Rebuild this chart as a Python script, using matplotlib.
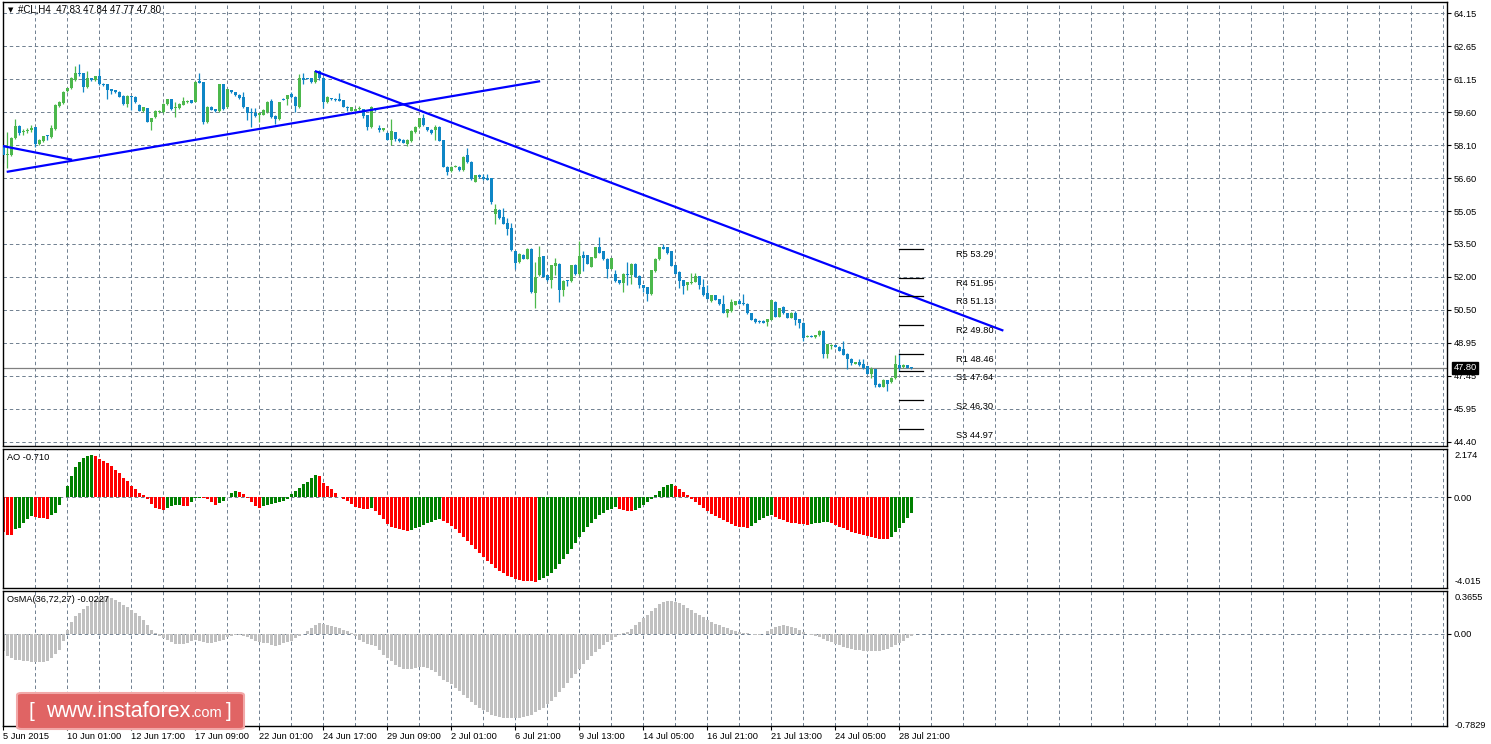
import matplotlib
matplotlib.use("Agg")
import matplotlib.pyplot as plt
import matplotlib.transforms as mtransforms
from matplotlib.patches import FancyBboxPatch

plt.rcParams['font.family'] = ['Liberation Sans', 'DejaVu Sans']
plt.rcParams['lines.scale_dashes'] = False

# ---- price data (H4 candles, #CL) ----
opens = [
    58.06, 57.61, 57.61, 58.41, 58.95, 58.66, 58.72, 58.75, 58.90, 58.14,
    58.26, 58.51, 58.45, 58.82, 59.87, 60.01, 60.57, 60.69, 61.07, 61.38,
    61.38, 60.75, 61.15, 61.07, 61.24, 60.91, 60.88, 60.65, 60.60, 60.53,
    60.34, 59.96, 60.34, 60.30, 59.92, 59.63, 59.78, 59.16, 59.36, 59.58,
    59.58, 59.96, 60.19, 59.77, 59.77, 59.93, 60.04, 60.13, 60.07, 61.03,
    60.98, 59.13, 59.84, 59.74, 59.63, 60.88, 59.84, 60.60, 60.50, 60.39,
    60.30, 59.81, 59.58, 59.54, 59.46, 59.48, 59.58, 60.12, 59.43, 59.28,
    60.22, 60.19, 60.42, 60.31, 59.81, 61.18, 61.15, 61.15, 60.98, 61.48,
    61.18, 60.04, 60.22, 60.22, 60.19, 60.15, 59.84, 59.66, 59.66, 59.74,
    59.74, 59.46, 58.90, 59.77, 58.86, 58.75, 58.64, 58.32, 58.67, 58.37,
    58.32, 58.14, 58.25, 58.67, 58.90, 59.31, 58.90, 58.79, 58.75, 58.93,
    58.29, 57.08, 56.88, 57.08, 57.08, 56.93, 57.61, 57.30, 56.38, 56.68,
    56.62, 56.56, 56.56, 54.90, 55.10, 54.75, 54.49, 54.24, 53.19, 52.69,
    53.02, 52.84, 53.30, 51.24, 52.08, 52.95, 52.08, 51.85, 52.49, 52.61,
    51.39, 51.85, 51.80, 52.56, 52.12, 52.99, 52.99, 52.46, 52.88, 53.36,
    53.17, 52.84, 52.38, 52.15, 51.85, 51.70, 52.15, 52.08, 52.61, 52.05,
    51.62, 51.51, 51.19, 52.26, 52.81, 53.39, 53.37, 53.17, 52.53, 52.23,
    51.85, 51.62, 51.70, 51.77, 52.03, 51.51, 51.27, 50.88, 51.15, 50.96,
    50.77, 50.35, 50.42, 50.70, 50.88, 50.80, 50.77, 50.32, 50.06, 49.97,
    49.97, 49.91, 50.01, 50.85, 50.17, 50.62, 50.32, 50.12, 50.32, 50.04,
    49.89, 49.24, 49.28, 49.22, 49.30, 49.51, 48.45, 48.80, 48.84, 48.77,
    48.69, 48.45, 48.22, 47.99, 48.07, 47.99, 47.89, 47.51, 47.73, 47.08,
    46.94, 47.23, 47.13, 47.32, 47.93, 47.84, 47.93, 47.83,
]
highs = [
    58.10, 58.67, 58.45, 59.28, 58.98, 58.82, 58.85, 59.01, 58.93, 58.36,
    58.50, 58.52, 59.02, 59.95, 60.10, 60.57, 60.72, 61.20, 61.71, 61.82,
    61.42, 61.51, 61.18, 61.27, 61.59, 60.95, 60.90, 60.68, 60.63, 60.55,
    60.37, 60.37, 60.36, 60.33, 59.95, 59.84, 59.80, 59.34, 59.69, 59.69,
    60.00, 60.22, 60.22, 60.04, 60.00, 60.30, 60.14, 60.15, 61.03, 61.41,
    61.00, 59.86, 59.86, 59.76, 60.91, 60.91, 60.68, 60.63, 60.52, 60.42,
    60.50, 59.83, 59.77, 59.77, 59.56, 59.73, 60.10, 60.19, 59.45, 60.06,
    60.24, 60.40, 60.53, 60.33, 61.36, 61.38, 61.17, 61.17, 61.50, 61.52,
    61.20, 60.33, 60.24, 60.26, 60.47, 60.17, 59.89, 59.83, 59.76, 59.86,
    59.76, 59.48, 59.87, 59.80, 58.98, 58.88, 58.66, 59.28, 58.70, 58.40,
    58.35, 58.34, 58.75, 58.96, 59.33, 59.51, 58.92, 58.81, 58.98, 58.95,
    58.31, 57.10, 57.10, 57.14, 57.10, 57.55, 57.94, 57.32, 56.70, 56.76,
    56.76, 56.76, 56.58, 55.38, 55.12, 55.16, 54.70, 54.49, 53.21, 53.09,
    53.04, 53.32, 53.32, 52.69, 53.42, 52.97, 52.10, 52.55, 52.88, 52.63,
    51.84, 51.87, 52.55, 52.58, 53.63, 53.17, 53.01, 52.93, 53.38, 53.82,
    53.19, 52.86, 52.89, 52.31, 51.87, 52.17, 52.69, 52.63, 52.63, 52.07,
    51.64, 51.53, 52.33, 52.86, 53.38, 53.52, 53.39, 53.19, 52.55, 52.25,
    51.87, 51.76, 52.18, 52.18, 52.05, 51.91, 51.62, 51.17, 51.17, 50.98,
    51.15, 50.52, 51.00, 50.90, 51.00, 51.23, 50.79, 50.34, 50.08, 49.99,
    49.99, 50.06, 50.93, 50.87, 50.57, 50.64, 50.34, 50.39, 50.42, 50.06,
    49.91, 49.30, 49.30, 49.32, 49.56, 49.53, 48.92, 48.90, 48.86, 48.79,
    49.06, 48.47, 48.24, 48.09, 48.19, 48.22, 47.91, 47.84, 47.75, 47.10,
    47.31, 47.25, 47.37, 48.42, 48.49, 47.99, 47.95, 47.84,
]
lows = [
    57.23, 57.00, 57.55, 58.35, 58.55, 58.52, 58.65, 58.70, 57.99, 58.10,
    58.22, 58.32, 58.42, 58.78, 59.84, 59.98, 60.50, 60.65, 61.03, 61.28,
    60.53, 60.72, 61.05, 61.03, 60.85, 60.78, 60.19, 60.42, 60.47, 60.27,
    59.93, 59.81, 59.69, 60.00, 59.63, 59.60, 59.13, 58.75, 59.33, 59.55,
    59.55, 59.93, 59.69, 59.39, 59.74, 59.90, 60.02, 60.01, 60.04, 60.93,
    59.05, 59.10, 59.69, 59.58, 59.60, 59.70, 59.80, 60.47, 60.36, 60.21,
    59.78, 59.24, 58.90, 59.36, 59.13, 59.45, 59.55, 59.33, 59.05, 59.25,
    60.13, 59.93, 60.24, 59.58, 59.78, 60.88, 61.10, 60.95, 60.95, 61.07,
    59.77, 60.00, 60.16, 60.12, 60.10, 59.81, 59.63, 59.63, 59.63, 59.71,
    59.34, 58.79, 58.87, 59.66, 58.70, 58.72, 58.30, 58.06, 58.25, 58.22,
    58.15, 58.02, 58.22, 58.64, 58.88, 58.95, 58.72, 58.60, 58.29, 58.24,
    57.05, 56.70, 56.85, 57.06, 56.90, 56.90, 57.27, 56.45, 56.35, 56.58,
    56.48, 56.45, 55.36, 54.45, 54.68, 54.42, 53.91, 53.20, 52.38, 52.66,
    52.82, 52.82, 51.25, 50.55, 52.06, 51.98, 51.83, 51.47, 52.08, 50.86,
    51.12, 51.59, 51.78, 52.09, 52.10, 52.26, 52.59, 52.44, 52.86, 53.09,
    52.79, 51.95, 52.36, 51.78, 51.68, 51.31, 51.62, 51.65, 51.98, 51.50,
    51.31, 50.89, 51.17, 52.24, 52.79, 53.28, 53.07, 52.48, 52.13, 51.50,
    51.19, 51.39, 51.68, 51.75, 51.42, 51.14, 50.96, 50.86, 50.91, 50.71,
    50.33, 50.17, 50.40, 50.68, 50.74, 50.71, 50.30, 49.99, 49.89, 49.89,
    49.87, 49.74, 49.99, 50.15, 50.15, 50.30, 50.10, 50.10, 49.79, 49.66,
    49.06, 49.22, 49.22, 49.20, 49.28, 48.24, 48.24, 48.69, 48.75, 48.58,
    48.40, 47.73, 47.93, 47.97, 47.91, 47.76, 47.52, 47.32, 46.90, 46.92,
    46.92, 46.75, 47.11, 47.30, 47.66, 47.82, 47.79, 47.77,
]
closes = [
    57.61, 57.66, 58.41, 58.95, 58.64, 58.72, 58.78, 58.87, 58.14, 58.32,
    58.48, 58.48, 58.87, 59.92, 60.04, 60.54, 60.69, 61.15, 61.38, 61.33,
    60.75, 61.15, 61.09, 61.24, 60.88, 60.83, 60.62, 60.57, 60.50, 60.30,
    59.96, 60.34, 60.27, 60.04, 59.66, 59.81, 59.16, 59.31, 59.66, 59.66,
    59.96, 60.19, 59.72, 59.78, 59.96, 60.12, 60.12, 60.03, 61.00, 60.95,
    59.13, 59.83, 59.71, 59.63, 60.88, 59.74, 60.65, 60.50, 60.39, 60.24,
    59.81, 59.54, 59.54, 59.43, 59.54, 59.71, 60.07, 59.36, 59.28, 60.04,
    60.16, 60.37, 60.27, 59.86, 61.18, 61.07, 61.12, 60.98, 61.48, 61.18,
    60.04, 60.31, 60.19, 60.15, 60.12, 59.84, 59.77, 59.81, 59.74, 59.78,
    59.43, 58.90, 59.84, 59.69, 58.78, 58.86, 58.32, 58.72, 58.37, 58.25,
    58.17, 58.32, 58.72, 58.93, 59.31, 58.98, 58.75, 58.63, 58.90, 58.26,
    57.08, 56.85, 57.08, 57.12, 56.93, 57.53, 57.30, 56.52, 56.68, 56.61,
    56.50, 56.47, 55.43, 55.12, 54.70, 54.44, 54.21, 53.22, 52.66, 53.07,
    52.84, 53.30, 51.28, 52.00, 52.91, 52.00, 51.85, 52.53, 52.66, 51.39,
    51.82, 51.80, 52.53, 52.11, 52.95, 52.88, 52.61, 52.91, 53.36, 53.11,
    52.81, 52.38, 52.87, 51.80, 51.70, 52.15, 52.08, 52.61, 52.00, 51.62,
    51.47, 51.19, 52.31, 52.84, 53.36, 53.30, 53.11, 52.50, 52.15, 51.80,
    51.57, 51.74, 51.77, 52.03, 51.62, 51.16, 50.98, 51.15, 50.93, 50.73,
    50.35, 50.50, 50.85, 50.88, 50.76, 50.73, 50.32, 50.01, 49.91, 49.91,
    49.89, 50.04, 50.91, 50.17, 50.55, 50.32, 50.12, 50.32, 50.01, 49.86,
    49.18, 49.28, 49.24, 49.30, 49.51, 48.45, 48.90, 48.84, 48.77, 48.60,
    48.42, 48.19, 48.04, 48.07, 47.93, 47.78, 47.54, 47.73, 47.00, 46.94,
    47.23, 47.08, 47.35, 47.96, 47.78, 47.93, 47.81, 47.80,
]

# ---- Awesome Oscillator ----
ao = [
    -1.54, -1.67, -1.67, -1.42, -1.35, -1.13, -0.98, -0.83, -0.88, -0.92,
    -0.93, -0.97, -0.80, -0.68, -0.34, 0.03, 0.50, 0.95, 1.33, 1.59,
    1.76, 1.85, 1.87, 1.84, 1.72, 1.61, 1.51, 1.39, 1.24, 1.10,
    0.87, 0.73, 0.50, 0.36, 0.21, 0.09, -0.09, -0.31, -0.46, -0.53,
    -0.58, -0.49, -0.37, -0.36, -0.35, -0.38, -0.39, -0.20, -0.03, -0.01,
    -0.03, -0.09, -0.22, -0.36, -0.26, -0.16, 0.03, 0.21, 0.28, 0.25,
    0.16, -0.01, -0.21, -0.39, -0.46, -0.39, -0.33, -0.31, -0.27, -0.21,
    -0.16, -0.06, 0.13, 0.30, 0.43, 0.58, 0.68, 0.88, 0.98, 0.96,
    0.65, 0.50, 0.36, 0.18, 0.02, -0.06, -0.16, -0.31, -0.43, -0.46,
    -0.50, -0.53, -0.49, -0.61, -0.80, -0.98, -1.20, -1.30, -1.38, -1.42,
    -1.47, -1.50, -1.45, -1.38, -1.30, -1.22, -1.15, -1.08, -1.02, -0.98,
    -1.05, -1.15, -1.28, -1.42, -1.57, -1.74, -1.92, -2.10, -2.28, -2.46,
    -2.64, -2.82, -2.98, -3.12, -3.26, -3.38, -3.48, -3.56, -3.62, -3.67,
    -3.70, -3.72, -3.73, -3.74, -3.68, -3.60, -3.50, -3.36, -3.18, -2.98,
    -2.76, -2.52, -2.28, -2.02, -1.78, -1.55, -1.32, -1.12, -0.95, -0.80,
    -0.68, -0.58, -0.50, -0.44, -0.50, -0.56, -0.60, -0.62, -0.55, -0.45,
    -0.35, -0.22, -0.08, 0.10, 0.30, 0.45, 0.55, 0.58, 0.50, 0.38,
    0.25, 0.10, -0.05, -0.20, -0.35, -0.48, -0.60, -0.72, -0.82, -0.92,
    -1.02, -1.10, -1.18, -1.25, -1.30, -1.33, -1.35, -1.25, -1.12, -1.00,
    -0.90, -0.82, -0.78, -0.85, -0.95, -1.02, -1.08, -1.12, -1.15, -1.18,
    -1.20, -1.22, -1.18, -1.15, -1.12, -1.10, -1.08, -1.15, -1.22, -1.30,
    -1.38, -1.45, -1.52, -1.58, -1.63, -1.68, -1.72, -1.76, -1.80, -1.83,
    -1.85, -1.86, -1.75, -1.55, -1.35, -1.12, -0.90, -0.71,
]

# ---- OsMA(36,72,27) ----
osma = [
    -0.150, -0.190, -0.210, -0.220, -0.225, -0.230, -0.235, -0.240, -0.244, -0.244,
    -0.240, -0.232, -0.210, -0.170, -0.136, -0.065, 0.034, 0.096, 0.147, 0.176,
    0.210, 0.238, 0.266, 0.289, 0.303, 0.312, 0.312, 0.303, 0.283, 0.266,
    0.247, 0.227, 0.204, 0.176, 0.153, 0.113, 0.077, 0.034, 0.006, -0.023,
    -0.037, -0.051, -0.074, -0.085, -0.085, -0.085, -0.079, -0.065, -0.051, -0.065,
    -0.074, -0.079, -0.079, -0.074, -0.065, -0.051, -0.028, -0.017, -0.009, -0.011,
    -0.017, -0.028, -0.045, -0.065, -0.074, -0.079, -0.079, -0.094, -0.102, -0.094,
    -0.079, -0.074, -0.065, -0.037, -0.023, -0.005, 0.020, 0.048, 0.077, 0.091,
    0.085, 0.077, 0.068, 0.057, 0.048, 0.034, 0.020, 0.006, -0.023, -0.051,
    -0.074, -0.085, -0.094, -0.108, -0.136, -0.179, -0.207, -0.235, -0.264, -0.280,
    -0.300, -0.300, -0.300, -0.290, -0.280, -0.280, -0.290, -0.310, -0.330, -0.360,
    -0.390, -0.410, -0.430, -0.460, -0.490, -0.520, -0.550, -0.580, -0.610, -0.630,
    -0.650, -0.670, -0.690, -0.700, -0.710, -0.715, -0.720, -0.720, -0.718, -0.715,
    -0.710, -0.700, -0.690, -0.670, -0.650, -0.630, -0.600, -0.570, -0.540, -0.500,
    -0.460, -0.420, -0.380, -0.340, -0.300, -0.260, -0.220, -0.190, -0.160, -0.130,
    -0.100, -0.070, -0.050, -0.030, -0.010, 0.005, 0.015, 0.040, 0.070, 0.100,
    0.130, 0.160, 0.190, 0.220, 0.250, 0.270, 0.280, 0.280, 0.270, 0.260,
    0.240, 0.220, 0.200, 0.180, 0.160, 0.140, 0.120, 0.100, 0.085, 0.070,
    0.055, 0.045, 0.035, 0.025, 0.015, 0.008, 0.002, -0.004, -0.008, -0.010,
    0.000, 0.020, 0.040, 0.055, 0.065, 0.070, 0.065, 0.055, 0.045, 0.030,
    0.015, 0.000, -0.010, -0.020, -0.030, -0.045, -0.060, -0.075, -0.090, -0.100,
    -0.110, -0.120, -0.130, -0.135, -0.140, -0.145, -0.150, -0.150, -0.150, -0.145,
    -0.140, -0.130, -0.115, -0.100, -0.080, -0.060, -0.040, -0.0227,
]

# ---- pivot levels and trend lines ----
pivot_names = ["R5", "R4", "R3", "R2", "R1", "S1", "S2", "S3"]
pivot_values = [53.29, 51.95, 51.13, 49.80, 48.46, 47.64, 46.30, 44.97]
trend_lines = [
    ((-0.4, 58.04), (17.2, 57.40)),
    ((0.85, 56.84), (134.2, 61.02)),
    ((77.9, 61.49), (250.0, 49.52)),
]
last_price = 47.80

price_labels = ["44.40", "45.95", "47.45", "48.95", "50.50", "52.00", "53.50",
                "55.05", "56.60", "58.10", "59.60", "61.15", "62.65", "64.15"]
date_labels = ["5 Jun 2015", "10 Jun 01:00", "12 Jun 17:00", "17 Jun 09:00",
               "22 Jun 01:00", "24 Jun 17:00", "29 Jun 09:00", "2 Jul 01:00",
               "6 Jul 21:00", "9 Jul 13:00", "14 Jul 05:00", "16 Jul 21:00",
               "21 Jul 13:00", "24 Jul 05:00", "28 Jul 21:00"]

BULL = "#4cb84c"
BEAR = "#0f86c6"
GRID = "#708090"
FS = 6.7
W, H = 1491, 744


def px_axes(fig, left, top, right, bottom):
    return fig.add_axes([left / W, 1 - bottom / H, (right - left) / W, (bottom - top) / H])


def style_panel(ax):
    ax.set_xlim(-0.2, 360.9)
    for v in range(8, 361, 8):
        ax.axvline(v, color=GRID, lw=0.7, ls=(0, (2.5, 2)), zorder=0)
    for s in ax.spines.values():
        s.set_linewidth(1.0)
        s.set_color("black")
    ax.tick_params(axis="x", bottom=False, labelbottom=False)
    ax.yaxis.tick_right()
    ax.tick_params(axis="y", length=3, width=0.8, pad=2, labelsize=FS)


def main():
    fig = plt.figure(figsize=(W / 100, H / 100), dpi=100)
    fig.patch.set_facecolor("white")

    ax = px_axes(fig, 2.5, 2, 1447, 446)
    ax_ao = px_axes(fig, 2.5, 448.5, 1447, 587.7)
    ax_os = px_axes(fig, 2.5, 590.7, 1447, 725.7)
    for a in (ax, ax_ao, ax_os):
        style_panel(a)

    # main price panel
    lo, hi = 44.40, 64.15
    step = (hi - lo) / 13
    yt = [lo + k * step for k in range(14)]
    ax.set_ylim(lo - 4.3 / 21.69, hi + 11.3 / 21.69)
    ax.set_yticks(yt)
    ax.set_yticklabels(price_labels)
    for y in yt:
        ax.axhline(y, color=GRID, lw=0.7, ls=(0, (2.5, 2)), zorder=0)

    n = len(closes)
    xs = list(range(n))
    cols = [BULL if c >= o else BEAR for o, c in zip(opens, closes)]
    bottoms = [min(o, c) for o, c in zip(opens, closes)]
    heights = [max(abs(c - o), 0.05) for o, c in zip(opens, closes)]
    ax.vlines(xs, lows, highs, colors=cols, lw=0.9, zorder=2)
    ax.bar(xs, heights, width=0.75, bottom=bottoms, color=cols, linewidth=0, zorder=3)

    ax.axhline(last_price, color="#808080", lw=0.9, zorder=1)
    for (x0, y0), (x1, y1) in trend_lines:
        ax.plot([x0, x1], [y0, y1], color="#0000ff", lw=1.6, zorder=4,
                solid_capstyle="butt", clip_on=True)
    for name, val in zip(pivot_names, pivot_values):
        ax.plot([224, 230], [val, val], color="black", lw=0.9, zorder=4)
        ax.text(238.2, val - 0.06, f"{name} {val:.2f}", fontsize=FS,
                ha="left", va="top", color="black", zorder=5)

    trans = mtransforms.blended_transform_factory(ax.transAxes, ax.transData)
    ax.text(1.0 + 6.5 / 1444, last_price, f"{last_price:.2f}", transform=trans,
            fontsize=FS, color="white", ha="left", va="center", zorder=10,
            clip_on=False,
            bbox=dict(boxstyle="square,pad=0.15", facecolor="black", edgecolor="black"))

    # AO panel
    ax_ao.set_ylim(-4.015, 2.174)
    ao_cols = ["#ff0000"] + ["#008000" if ao[i] > ao[i - 1] else "#ff0000"
                             for i in range(1, len(ao))]
    ax_ao.bar(range(len(ao)), ao, width=0.75, color=ao_cols, linewidth=0, zorder=2)
    ax_ao.axhline(0, color=GRID, lw=0.7, ls=(0, (2.5, 2)), zorder=1)
    ax_ao.set_yticks([0])
    ax_ao.set_yticklabels(["0.00"])

    # OsMA panel
    ax_os.set_ylim(-0.7829, 0.3655)
    ax_os.bar(range(len(osma)), osma, width=0.75, color="#c0c0c0", linewidth=0, zorder=2)
    ax_os.axhline(0, color=GRID, lw=0.7, ls=(0, (2.5, 2)), zorder=1)
    ax_os.set_yticks([0])
    ax_os.set_yticklabels(["0.00"])

    ax_os.tick_params(axis="x", bottom=True, labelbottom=True, length=3,
                      width=0.8, pad=1.5, labelsize=FS)
    ax_os.set_xticks(range(0, 16 * len(date_labels), 16))
    ax_os.set_xticklabels(date_labels, ha="left")

    # texts drawn in pixel positions
    def ftxt(x, y, s, **kw):
        fig.text(x / W, 1 - y / H, s, **kw)

    ftxt(8, 10, "\u25bc", fontsize=5, va="center", ha="left", family="DejaVu Sans")
    ftxt(18, 10, "#CL,H4  47.83 47.84 47.77 47.80", fontsize=7, va="center")
    ftxt(7, 457, "AO -0.710", fontsize=FS, va="center")
    ftxt(7, 600, "OsMA(36,72,27) -0.0227", fontsize=FS, va="center")
    ftxt(1455, 455, "2.174", fontsize=FS, va="center")
    ftxt(1455, 581.5, "-4.015", fontsize=FS, va="center")
    ftxt(1455, 597, "0.3655", fontsize=FS, va="center")
    ftxt(1455, 725, "-0.7829", fontsize=FS, va="center")

    # logo box
    box = FancyBboxPatch((17 / W, 1 - 729 / H), 227 / W, 36 / H,
                         boxstyle="round,pad=0,rounding_size=0.003",
                         transform=fig.transFigure, facecolor="#e06464",
                         edgecolor="#f2a8a8", lw=1.5, zorder=20)
    fig.patches.append(box)
    ftxt(28, 717, "[", fontsize=15, color="white", va="baseline", zorder=21)
    ftxt(46, 717, "www.instaforex", fontsize=15.5, color="white", va="baseline", zorder=21)
    ftxt(191, 717, ".com", fontsize=10.5, color="white", va="baseline", zorder=21)
    ftxt(226, 717, "]", fontsize=15, color="white", va="baseline", zorder=21)

    fig.savefig("out.png", dpi=100)
    plt.close(fig)


if __name__ == "__main__":
    main()
